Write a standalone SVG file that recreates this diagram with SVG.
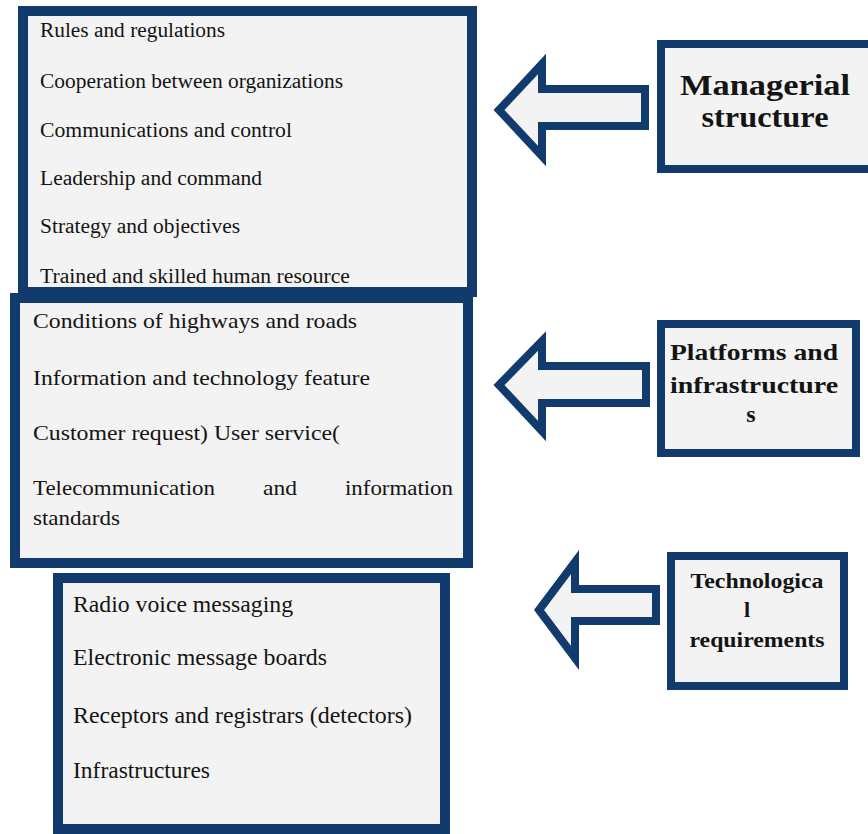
<svg xmlns="http://www.w3.org/2000/svg" width="868" height="834" viewBox="0 0 868 834">
<style>
.box{fill:#f3f3f3;stroke:#103b6c;stroke-width:10}
.sbox{fill:#f3f3f3;stroke:#103b6c;stroke-width:8}
.arr{fill:#f3f3f3;stroke:#103b6c;stroke-width:8;stroke-linejoin:miter}
.t1{font-family:"Liberation Serif","Times New Roman",serif;font-size:20px;fill:#141414}
.t2{font-family:"Liberation Serif","Times New Roman",serif;font-size:22px;fill:#141414}
.t3{font-family:"Liberation Serif","Times New Roman",serif;font-size:23px;fill:#141414}
.lb{font-family:"Liberation Serif","Times New Roman",serif;font-weight:bold;fill:#141414;text-anchor:middle}
</style>
<rect width="868" height="834" fill="#ffffff"/>
<g id="managerial-list">
<rect class="box" x="23" y="11" width="449" height="281"/>
<text class="t1" x="40" y="37" textLength="185" lengthAdjust="spacingAndGlyphs">Rules and regulations</text>
<text class="t1" x="40" y="88" textLength="303" lengthAdjust="spacingAndGlyphs">Cooperation between organizations</text>
<text class="t1" x="40" y="137" textLength="252" lengthAdjust="spacingAndGlyphs">Communications and control</text>
<text class="t1" x="40" y="185" textLength="222" lengthAdjust="spacingAndGlyphs">Leadership and command</text>
<text class="t1" x="40" y="233" textLength="200" lengthAdjust="spacingAndGlyphs">Strategy and objectives</text>
<text class="t1" x="40" y="283" textLength="310" lengthAdjust="spacingAndGlyphs">Trained and skilled human resource</text>
</g>
<g id="platforms-list">
<rect class="box" x="15" y="298" width="453" height="265"/>
<text class="t2" x="33" y="328" textLength="324" lengthAdjust="spacingAndGlyphs">Conditions of highways and roads</text>
<text class="t2" x="33" y="385" textLength="337" lengthAdjust="spacingAndGlyphs">Information and technology feature</text>
<text class="t2" x="33" y="440" textLength="307" lengthAdjust="spacingAndGlyphs">Customer request) User service(</text>
<text class="t2" x="33" y="495" textLength="182" lengthAdjust="spacingAndGlyphs">Telecommunication</text>
<text class="t2" x="263" y="495" textLength="34" lengthAdjust="spacingAndGlyphs">and</text>
<text class="t2" x="345" y="495" textLength="108" lengthAdjust="spacingAndGlyphs">information</text>
<text class="t2" x="33" y="525" textLength="87" lengthAdjust="spacingAndGlyphs">standards</text>
</g>
<g id="technological-list">
<rect class="box" x="58" y="578" width="387" height="251"/>
<text class="t3" x="73" y="612" textLength="220" lengthAdjust="spacingAndGlyphs">Radio voice messaging</text>
<text class="t3" x="73" y="665" textLength="254" lengthAdjust="spacingAndGlyphs">Electronic message boards</text>
<text class="t3" x="73" y="723" textLength="339" lengthAdjust="spacingAndGlyphs">Receptors and registrars (detectors)</text>
<text class="t3" x="73" y="778" textLength="137" lengthAdjust="spacingAndGlyphs">Infrastructures</text>
</g>
<g id="managerial-structure">
<rect class="sbox" x="661" y="44" width="220" height="125"/>
<text class="lb" x="765" y="95" font-size="30" textLength="170" lengthAdjust="spacingAndGlyphs">Managerial</text>
<text class="lb" x="765" y="127" font-size="30" textLength="127" lengthAdjust="spacingAndGlyphs">structure</text>
</g>
<g id="platforms-infrastructures">
<rect class="sbox" x="661" y="324" width="195" height="129"/>
<text class="lb" x="754" y="360" font-size="24" textLength="168" lengthAdjust="spacingAndGlyphs">Platforms and</text>
<text class="lb" x="754" y="393" font-size="24" textLength="168" lengthAdjust="spacingAndGlyphs">infrastructure</text>
<text class="lb" x="751" y="422" font-size="24">s</text>
</g>
<g id="technological-requirements">
<rect class="sbox" x="671" y="556" width="173" height="130"/>
<text class="lb" x="757" y="588" font-size="22" textLength="133" lengthAdjust="spacingAndGlyphs">Technologica</text>
<text class="lb" x="747" y="617" font-size="22">l</text>
<text class="lb" x="757" y="647" font-size="22" textLength="135" lengthAdjust="spacingAndGlyphs">requirements</text>
</g>
<g id="connectors">
<polygon class="arr" points="499,110 542,64 542,89 645,89 645,126 542,126 542,156"/>
<polygon class="arr" points="499,385 542,341 542,366 646,366 646,403 542,403 542,431"/>
<polygon class="arr" points="539,610 575,562 575,589 656,589 656,621 575,621 575,658"/>
</g>
</svg>
